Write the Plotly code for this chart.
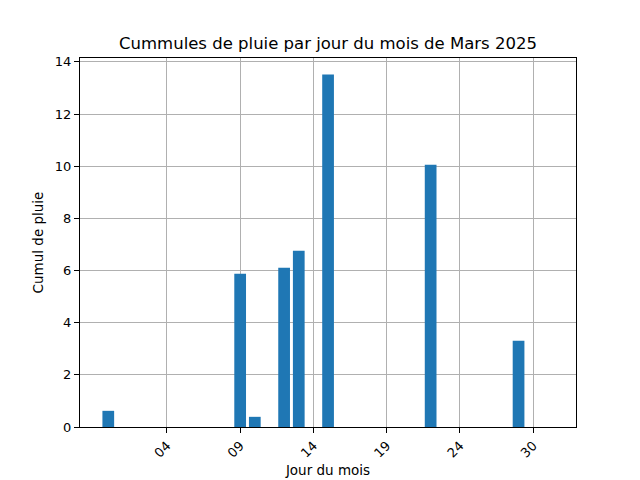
import plotly.graph_objects as go

# cumul de pluie (mm) par jour de mars 2025
jours = [1, 10, 11, 13, 14, 16, 23, 29]
cumuls = [0.62, 5.88, 0.39, 6.11, 6.76, 13.52, 10.06, 3.31]

tick_jours = [5, 10, 15, 20, 25, 30]
tick_labels = ["04", "09", "14", "19", "24", "30"]
tick_y = [0, 2, 4, 6, 8, 10, 12, 14]

police = "DejaVu Sans"

fig = go.Figure(go.Bar(
    x=jours,
    y=cumuls,
    width=0.8,
    marker=dict(color="#1f77b4", line=dict(width=0)),
))

# la page ajoute une marge de 8 px autour de la figure
fig.update_layout(
    width=632,
    height=472,
    paper_bgcolor="white",
    plot_bgcolor="white",
    showlegend=False,
    font=dict(family=police, size=13, color="black"),
    margin=dict(l=72, r=64, t=50, b=53, autoexpand=False),
    title=dict(
        text="Cummules de pluie par jour du mois de Mars 2025",
        font=dict(family=police, size=16.5, color="black"),
        x=0.5, xref="paper", xanchor="center",
        y=1 - 35 / 472, yref="container", yanchor="middle",
    ),
)

fig.update_xaxes(
    range=[-0.93, 32.92],
    tickmode="array",
    tickvals=tick_jours,
    ticktext=tick_labels,
    tickangle=-45,
    ticks="outside",
    ticklen=5,
    tickcolor="black",
    tickfont=dict(size=13),
    showgrid=True,
    gridcolor="#b0b0b0",
    gridwidth=1,
    showline=True,
    mirror=True,
    linecolor="black",
    linewidth=1,
    zeroline=False,
    title=dict(text="Jour du mois", font=dict(size=13.5), standoff=6),
)

fig.update_yaxes(
    range=[0, 14.15],
    tickmode="array",
    tickvals=tick_y,
    ticks="outside",
    ticklen=5,
    tickcolor="black",
    tickfont=dict(size=13),
    showgrid=True,
    gridcolor="#b0b0b0",
    gridwidth=1,
    showline=True,
    mirror=True,
    linecolor="black",
    linewidth=1,
    zeroline=False,
    title=dict(text="Cumul de pluie", font=dict(size=13.5), standoff=8),
)

fig.write_html("out.html")
